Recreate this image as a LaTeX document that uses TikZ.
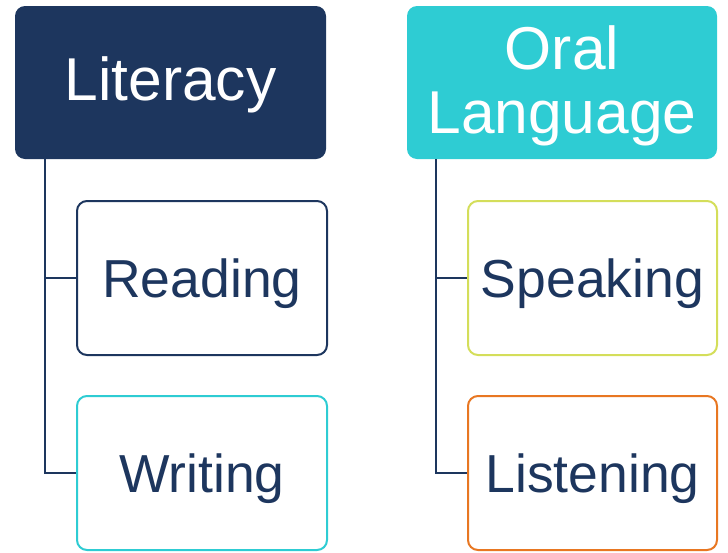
\documentclass[tikz,border=0pt]{standalone}
\usepackage{fontspec}
\setmainfont{Liberation Sans}
\definecolor{navy}{RGB}{29,54,94}
\definecolor{teal}{RGB}{46,204,211}
\definecolor{lime}{RGB}{212,222,90}
\definecolor{orng}{RGB}{232,119,34}
\tikzset{
  parentbox/.style={rectangle, rounded corners=10pt, inner sep=0pt, minimum width=311pt, minimum height=153pt, text=white, font=\fontsize{60.5}{63.5}\selectfont, align=center},
  childbox/.style={rectangle, rounded corners=10pt, draw, line width=2pt, fill=white, inner sep=0pt, minimum width=250pt, minimum height=154pt, text=navy, font=\fontsize{53.5}{60}\selectfont, text height=38.3pt, text depth=0pt},
  conn/.style={draw=navy, line width=2pt}
}
\begin{document}
\begin{tikzpicture}[x=1pt,y=-1pt]
\useasboundingbox (0,0) rectangle (728,552);
\node[parentbox, fill=navy, text height=43.3pt, text depth=8pt] (lit) at (170.5,82.5) {Literacy};
\node[parentbox, fill=teal, minimum width=310pt] (oral) at (562,82.5) {\rule{0pt}{51pt}Oral\\Language};
\node[childbox, draw=navy] (read) at (202,278) {Reading};
\node[childbox, draw=teal] (writ) at (202,473) {Writing};
\node[childbox, draw=lime, minimum width=249pt] (speak) at (592.5,278) {Speaking};
\node[childbox, draw=orng, minimum width=249pt] (listen) at (592.5,473) {Listening};
\draw[conn] ([xshift=30pt]lit.south west) |- (read.west);
\draw[conn] ([xshift=30pt]lit.south west) |- (writ.west);
\draw[conn] ([xshift=29pt]oral.south west) |- (speak.west);
\draw[conn] ([xshift=29pt]oral.south west) |- (listen.west);
\end{tikzpicture}
\end{document}
